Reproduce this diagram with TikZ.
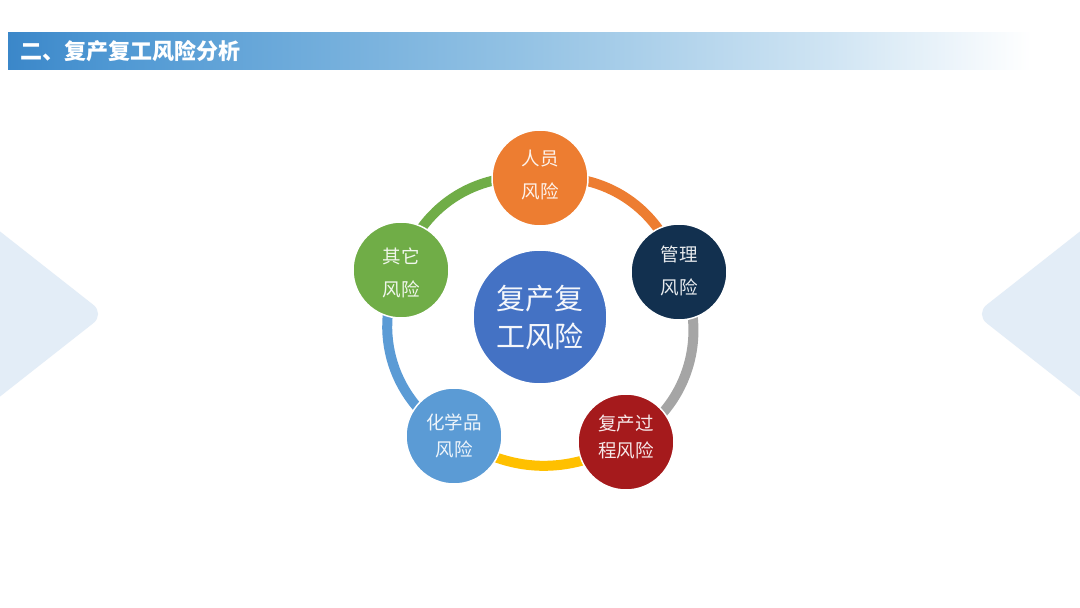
\documentclass[tikz,border=0pt]{standalone}
\usepackage{fontspec}
\newfontfamily\cjk{Noto Sans CJK SC}
\usetikzlibrary{backgrounds}
\definecolor{c-orange}{HTML}{ED7D31}
\definecolor{c-navy}{HTML}{12304F}
\definecolor{c-red}{HTML}{A51A1C}
\definecolor{c-lblue}{HTML}{5B9BD5}
\definecolor{c-green}{HTML}{70AD47}
\definecolor{c-center}{HTML}{4472C4}
\definecolor{c-gray}{HTML}{A5A5A5}
\definecolor{c-yellow}{HTML}{FFC000}
\definecolor{c-side}{HTML}{E3EDF7}
\definecolor{tb1}{HTML}{3B87C9}
\definecolor{tb2}{HTML}{4F98D3}
\definecolor{tb3}{HTML}{93C2E4}
\definecolor{tb4}{HTML}{CFE4F3}
\pgfdeclarehorizontalshading{titlebar}{100bp}{color(0bp)=(tb1); color(25bp)=(tb1); color(30bp)=(tb2); color(50bp)=(tb3); color(65bp)=(tb4); color(75bp)=(white); color(100bp)=(white)}
\pgfdeclarelayer{back}
\pgfdeclarelayer{ringlayer}
\pgfsetlayers{back,ringlayer,main}
\tikzset{
  outer/.style={circle, minimum size=96pt, inner sep=0pt, draw=white, line width=1.5pt},
  lbl/.style={text=white, text opacity=0.9, align=center, inner sep=0pt,
    font=\cjk\fontsize{18.5}{33}\selectfont},
  lbltight/.style={lbl, font=\cjk\fontsize{18.5}{27.5}\selectfont},
  hub/.style={circle, minimum size=134pt, inner sep=0pt, draw=white, line width=1.5pt,
    fill=c-center, text=white, text opacity=0.95, align=center, font=\cjk\fontsize{29}{38}\selectfont},
  ring/.style={line width=10pt},
  sideshape/.style={fill=c-side, rounded corners=15pt},
  titletext/.style={anchor=west, inner sep=0pt, text=white, font=\cjk\bfseries\fontsize{22}{26}\selectfont}
}
\begin{document}
\begin{tikzpicture}[x=1pt,y=1pt]
\useasboundingbox (0,0) rectangle (1080,608);
\begin{pgfonlayer}{back}
\fill[white] (0,0) rectangle (1080,608);
\begin{scope}
\clip (0,0) rectangle (1080,608);
\fill[sideshape] (-40,408) -- (105,294) -- (-40,180) -- cycle;
\fill[sideshape] (1120,408) -- (975,294) -- (1120,180) -- cycle;
\end{scope}
\shade[shading=titlebar] (8,538) rectangle (1032,575);
\end{pgfonlayer}
\node[titletext] (title) at (20,557) {二、复产复工风险分析};
\node[hub] (hubc) at (540,291) {复产复\\工风险};
\node[outer, fill=c-orange, label={[lbl, yshift=3pt]center:人员\\风险}] (ren) at (540,430) {};
\node[outer, fill=c-navy, label={[lbl, yshift=1pt]center:管理\\风险}] (guan) at (679,336) {};
\node[outer, fill=c-red, label={[lbltight, yshift=5pt]center:复产过\\程风险}] (guo) at (626,166) {};
\node[outer, fill=c-lblue, label={[lbltight]center:化学品\\风险}] (hua) at (454,172) {};
\node[outer, fill=c-green, label={[lbl, yshift=-3pt]center:其它\\风险}] (qita) at (401,338) {};
\begin{pgfonlayer}{ringlayer}
\draw[ring, draw=c-green] (qita.center) to[bend left=40] (ren.center);
\draw[ring, draw=c-orange] (ren.center) to[bend left=40] (guan.center);
\draw[ring, draw=c-gray] (guan.center) to[bend left=45] (guo.center);
\draw[ring, draw=c-yellow] (guo.center) to[bend left=32] (hua.center);
\draw[ring, draw=c-lblue] (hua.center) to[bend left=45] (qita.center);
\end{pgfonlayer}
\end{tikzpicture}
\end{document}
